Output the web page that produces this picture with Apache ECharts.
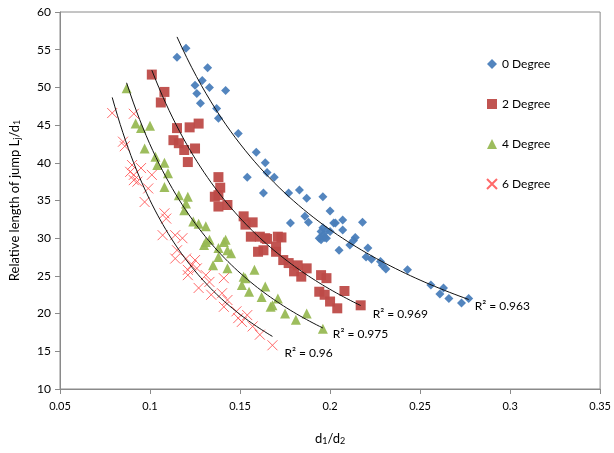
<!DOCTYPE html>
<html>
<head>
<meta charset="utf-8">
<script src="https://cdn.jsdelivr.net/npm/echarts@6/dist/echarts.min.js"></script>
<style>
  html, body { margin: 0; padding: 0; background: #fff; }
  #main { width: 614px; height: 453px; }
</style>
</head>
<body>
<div id="main"></div>
<script>
// 数据：每组 [d1/d2, Lj/d1]
var deg0 = [
  [0.115, 54.0], [0.120, 55.2], [0.132, 52.6], [0.129, 50.9], [0.125, 50.3], [0.133, 50.0],
  [0.142, 49.6], [0.126, 49.2], [0.128, 47.9], [0.137, 47.2], [0.138, 45.9], [0.149, 43.9],
  [0.159, 41.4], [0.164, 40.0], [0.165, 38.7], [0.169, 38.1], [0.154, 38.1], [0.163, 36.0],
  [0.177, 36.0], [0.183, 36.4], [0.187, 35.3], [0.196, 35.5], [0.200, 33.6], [0.186, 32.9],
  [0.188, 32.1], [0.178, 32.0], [0.207, 32.4], [0.202, 32.0], [0.218, 32.1], [0.196, 31.4],
  [0.207, 31.1], [0.195, 30.9], [0.196, 30.4], [0.197, 30.1], [0.195, 29.8], [0.200, 30.9],
  [0.198, 31.0], [0.194, 30.0], [0.198, 30.0], [0.203, 32.0],
  [0.214, 30.1], [0.213, 29.7], [0.211, 29.1], [0.205, 28.4], [0.221, 28.7], [0.220, 27.5],
  [0.223, 27.2], [0.228, 26.9], [0.229, 26.4], [0.231, 25.9], [0.243, 25.8], [0.256, 23.8],
  [0.263, 23.4], [0.261, 22.6], [0.266, 22.0], [0.273, 21.4], [0.277, 22.0]
];
var deg2 = [
  [0.101, 51.7], [0.108, 49.4], [0.106, 48.0], [0.127, 45.2], [0.122, 44.7], [0.115, 44.6],
  [0.113, 43.0], [0.116, 42.6], [0.125, 41.9], [0.119, 41.7], [0.121, 40.1], [0.138, 38.1],
  [0.139, 36.7], [0.138, 35.7], [0.136, 35.5], [0.138, 34.2], [0.143, 34.4], [0.152, 32.9],
  [0.157, 32.1], [0.153, 31.8], [0.156, 30.2], [0.161, 30.2], [0.164, 30.0], [0.171, 30.2],
  [0.170, 28.9], [0.173, 30.1], [0.165, 29.9], [0.160, 28.2], [0.163, 28.4], [0.170, 28.2],
  [0.174, 27.1], [0.177, 26.7], [0.182, 26.4], [0.187, 26.0], [0.180, 25.6], [0.184, 24.9],
  [0.195, 25.1], [0.198, 24.7], [0.194, 22.9], [0.197, 22.5], [0.208, 23.0], [0.200, 21.6],
  [0.204, 20.7], [0.217, 21.1]
];
var deg4 = [
  [0.087, 49.9], [0.092, 45.2], [0.095, 44.6], [0.100, 44.9], [0.097, 41.9], [0.103, 40.8],
  [0.104, 39.7], [0.108, 40.0], [0.110, 38.6], [0.108, 36.8], [0.116, 35.7], [0.121, 35.5],
  [0.120, 34.6], [0.119, 33.7], [0.124, 32.2], [0.127, 31.9], [0.131, 31.6], [0.133, 29.8],
  [0.130, 29.1], [0.131, 29.5], [0.142, 29.8], [0.141, 29.5], [0.138, 28.7], [0.143, 28.4],
  [0.145, 28.0], [0.138, 27.5], [0.135, 26.4], [0.143, 26.0], [0.158, 25.8], [0.152, 24.9],
  [0.153, 24.7], [0.151, 23.8], [0.155, 22.9], [0.164, 23.6], [0.162, 22.2], [0.168, 21.1],
  [0.171, 22.0], [0.167, 20.9], [0.175, 20.0], [0.181, 19.2], [0.187, 20.0], [0.196, 18.0]
];
var deg6 = [
  [0.079, 46.6], [0.091, 46.5], [0.085, 42.8], [0.086, 42.2], [0.090, 39.7], [0.095, 39.3],
  [0.089, 38.8], [0.091, 38.4], [0.101, 38.4], [0.091, 37.7], [0.093, 37.5], [0.099, 36.6],
  [0.097, 34.8], [0.108, 33.3], [0.109, 32.6], [0.107, 30.4], [0.114, 30.4], [0.118, 30.0],
  [0.115, 28.4], [0.114, 27.3], [0.120, 27.3], [0.125, 27.1], [0.123, 26.4], [0.126, 26.0],
  [0.121, 25.8], [0.131, 25.1], [0.121, 25.1], [0.141, 24.7], [0.133, 24.2], [0.127, 23.4],
  [0.134, 22.5], [0.140, 22.7], [0.143, 21.8], [0.141, 20.9], [0.148, 20.3], [0.154, 19.8],
  [0.149, 19.4], [0.151, 18.9], [0.157, 18.3], [0.161, 17.2], [0.168, 15.8]
];
var seriesNames = ['0 Degree', '2 Degree', '4 Degree', '6 Degree'];
var r2Labels = ['R\u00b2 = 0.963', 'R\u00b2 = 0.969', 'R\u00b2 = 0.975', 'R\u00b2 = 0.96'];
var xTicks = [0.05, 0.1, 0.15, 0.2, 0.25, 0.3, 0.35];
var yTicks = [10, 15, 20, 25, 30, 35, 40, 45, 50, 55, 60];

var allData = [deg0, deg2, deg4, deg6];
var colors = ['#4a7ebb', '#be4b48', '#98b954', '#ff4f4f'];
var symbols = ['diamond', 'rect', 'triangle', 'path://M0,0L10,10M10,0L0,10'];
var symbolSizes = [9, 10, 10, 10];
// 标签相对趋势线末端的偏移（像素）
var r2Offset = [[6, 7], [12, 9], [10, 6], [12, 17]];

// 幂函数拟合 y = a * x^b（和 Excel 的乘幂趋势线一样，对 ln 取最小二乘）
function powerFit(pts) {
  var n = pts.length, sx = 0, sy = 0, sxx = 0, sxy = 0;
  pts.forEach(function (p) {
    var lx = Math.log(p[0]), ly = Math.log(p[1]);
    sx += lx; sy += ly; sxx += lx * lx; sxy += lx * ly;
  });
  var b = (n * sxy - sx * sy) / (n * sxx - sx * sx);
  var a = Math.exp((sy - b * sx) / n);
  var xs = pts.map(function (p) { return p[0]; });
  var x0 = Math.min.apply(null, xs), x1 = Math.max.apply(null, xs);
  var line = [];
  for (var i = 0; i <= 60; i++) {
    var x = x0 + (x1 - x0) * i / 60;
    line.push([x, a * Math.pow(x, b)]);
  }
  return line;
}

var trendLines = allData.map(powerFit);

var font = 'Lato, "Open Sans", sans-serif';
var series = [];
allData.forEach(function (d, i) {
  series.push({
    name: seriesNames[i],
    type: 'scatter',
    data: d,
    symbol: symbols[i],
    symbolSize: symbolSizes[i],
    itemStyle: i === 3
      ? { color: colors[i], borderColor: colors[i], borderWidth: 1, opacity: 0.85 }
      : { color: colors[i], opacity: 0.95 },
    z: 2
  });
});
trendLines.forEach(function (l) {
  series.push({
    type: 'line',
    data: l,
    showSymbol: false,
    symbol: 'none',
    smooth: false,
    lineStyle: { color: '#111', width: 1 },
    silent: true,
    z: 5
  });
});

var myChart = echarts.init(document.getElementById('main'), null, { renderer: 'canvas' });
myChart.setOption({
  animation: false,
  textStyle: { fontFamily: font },
  grid: {
    left: 60, right: 11, top: 12, bottom: 64,
    show: true, borderColor: '#8a8a8a', borderWidth: 1
  },
  legend: {
    data: seriesNames,
    orient: 'vertical',
    left: 481, top: 53,
    itemGap: 28,
    itemWidth: 10, itemHeight: 10,
    textStyle: { fontFamily: font, fontSize: 12, color: '#000' }
  },
  xAxis: {
    type: 'value',
    min: xTicks[0], max: xTicks[xTicks.length - 1], interval: 0.05,
    name: 'd{sub|1}/d{sub|2}',
    nameLocation: 'middle',
    nameGap: 42,
    nameTextStyle: {
      fontFamily: font, fontSize: 13, color: '#000',
      rich: { sub: { fontFamily: font, fontSize: 9, verticalAlign: 'bottom', padding: [6, 0, 0, 0] } }
    },
    axisLine: { lineStyle: { color: '#8a8a8a' } },
    axisTick: { show: true, length: 5, lineStyle: { color: '#8a8a8a' } },
    axisLabel: {
      margin: 12, fontSize: 11, color: '#000', fontFamily: font,
      formatter: function (v) { return String(parseFloat(v.toFixed(2))); }
    },
    splitLine: { show: false }
  },
  yAxis: {
    type: 'value',
    min: yTicks[0], max: yTicks[yTicks.length - 1], interval: 5,
    name: 'Relative length of jump L{sub|j}/d{sub|1}',
    nameLocation: 'middle',
    nameGap: 38,
    nameTextStyle: {
      fontFamily: font, fontSize: 13, color: '#000',
      rich: { sub: { fontFamily: font, fontSize: 9, verticalAlign: 'bottom', padding: [6, 0, 0, 0] } }
    },
    axisLine: { show: true, lineStyle: { color: '#8a8a8a' } },
    axisTick: { show: true, length: 5, lineStyle: { color: '#8a8a8a' } },
    axisLabel: { margin: 9, fontSize: 12, color: '#000', fontFamily: font },
    splitLine: { show: false }
  },
  series: series
});

// R² 标签放在每条趋势线末端旁边
var graphics = trendLines.map(function (l, i) {
  var end = l[l.length - 1];
  var p = myChart.convertToPixel({ gridIndex: 0 }, end);
  return {
    type: 'text',
    left: p[0] + r2Offset[i][0],
    top: p[1] + r2Offset[i][1] - 6,
    style: { text: r2Labels[i], fontFamily: font, fontSize: 12, fill: '#000' },
    z: 10
  };
});
myChart.setOption({ graphic: graphics });
</script>
</body>
</html>
